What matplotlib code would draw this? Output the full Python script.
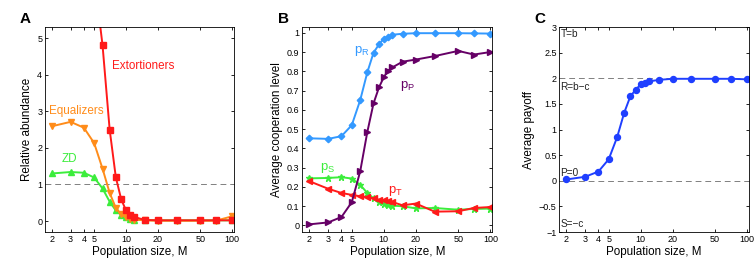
import matplotlib
matplotlib.use("Agg")
import matplotlib.pyplot as plt
from matplotlib.ticker import FixedLocator, NullLocator, FixedFormatter

plt.rcParams['font.family'] = ['Liberation Sans', 'DejaVu Sans']

M = [2, 3, 4, 5, 6, 7, 8, 9, 10, 11, 12, 15, 20, 30, 50, 70, 100]
M_ext = [5, 6, 7, 8, 9, 10, 11, 12, 15, 20, 30, 50, 70, 100]
extortioners = [6.7, 4.8, 2.5, 1.2, 0.59, 0.29, 0.17, 0.11, 0.03, 0.02, 0.02, 0.02, 0.02, 0.02]
equalizers = [2.59, 2.71, 2.55, 2.13, 1.43, 0.77, 0.36, 0.18, 0.1, 0.06, 0.04, 0.02, 0.01, 0.01, 0.01, 0.01, 0.13]
zd = [1.30, 1.34, 1.32, 1.19, 0.89, 0.53, 0.29, 0.17, 0.1, 0.06, 0.04, 0.03, 0.02, 0.02, 0.02, 0.02, 0.02]

pR = [0.452, 0.449, 0.463, 0.52, 0.65, 0.795, 0.896, 0.94, 0.97, 0.98, 0.99, 0.995, 0.998, 0.998, 0.998, 0.997, 0.996]
pP = [0.005, 0.015, 0.043, 0.12, 0.28, 0.485, 0.633, 0.716, 0.77, 0.804, 0.82, 0.85, 0.861, 0.879, 0.906, 0.887, 0.9]
pS = [0.244, 0.246, 0.25, 0.243, 0.21, 0.168, 0.14, 0.121, 0.113, 0.107, 0.102, 0.099, 0.088, 0.09, 0.081, 0.085, 0.087]
pT = [0.229, 0.19, 0.168, 0.158, 0.151, 0.147, 0.14, 0.133, 0.13, 0.128, 0.121, 0.104, 0.113, 0.071, 0.073, 0.09, 0.095]

payoff = [0.026, 0.078, 0.18, 0.42, 0.85, 1.33, 1.65, 1.78, 1.88, 1.91, 1.94, 1.97, 1.99, 1.99, 1.99, 1.99, 1.98]

xticks = [2, 3, 4, 5, 10, 20, 50, 100]
xticklabels = ['2', '3', '4', '5', '10', '20', '50', '100']

RED = '#ff1a1a'
ORANGE = '#ff8c1a'
GREEN = '#3ced3c'
BLUE_L = '#3399ff'
PURPLE = '#660066'
BLUE = '#1f3fff'
DASH = dict(color='#808080', ls=(0, (6, 4)), lw=0.7)

fig = plt.figure(figsize=(7.56, 2.73), dpi=100)
axA = fig.add_axes([0.0595, 0.150, 0.250, 0.751])
axB = fig.add_axes([0.400, 0.150, 0.251, 0.751])
axC = fig.add_axes([0.740, 0.150, 0.2505, 0.751])

tick_fs = 6.5
label_fs = 8.4

def style(ax):
    ax.set_xscale('log')
    ax.set_xlim(1.72, 104)
    ax.xaxis.set_major_locator(FixedLocator(xticks))
    ax.xaxis.set_major_formatter(FixedFormatter(xticklabels))
    ax.xaxis.set_minor_locator(NullLocator())
    ax.tick_params(direction='in', length=2.5, width=0.6, labelsize=tick_fs,
                   top=True, right=True, pad=2)
    for s in ax.spines.values():
        s.set_linewidth(0.6)
    ax.set_xlabel('Population size, M', fontsize=label_fs, labelpad=1.5)

lw = 1.4
ms = 3.9

# Panel A
style(axA)
axA.axhline(1, **DASH)
axA.plot(M, zd, color=GREEN, marker='^', ms=ms, lw=lw)
axA.plot(M, equalizers, color=ORANGE, marker='v', ms=ms, lw=lw)
axA.plot(M_ext, extortioners, color=RED, marker='s', ms=ms, lw=lw)
axA.set_ylim(-0.3, 5.3)
axA.set_yticks([0, 1, 2, 3, 4, 5])
axA.set_ylabel('Relative abundance', fontsize=label_fs, labelpad=3)
axA.text(7.37, 4.15, 'Extortioners', color=RED, fontsize=label_fs)
axA.text(1.89, 2.92, 'Equalizers', color=ORANGE, fontsize=label_fs)
axA.text(2.47, 1.61, 'ZD', color=GREEN, fontsize=label_fs)
fig.text(0.026, 0.915, 'A', fontsize=11, fontweight='bold')

# Panel B
style(axB)
axB.plot(M, pS, color=GREEN, marker='*', ms=ms + 1, lw=lw)
axB.plot(M, pT, color=RED, marker='<', ms=ms, lw=lw)
axB.plot(M, pR, color=BLUE_L, marker='D', ms=ms - 0.6, lw=lw)
axB.plot(M, pP, color=PURPLE, marker='>', ms=ms, lw=lw)
axB.set_ylim(-0.035, 1.03)
axB.set_yticks([0, 0.1, 0.2, 0.3, 0.4, 0.5, 0.6, 0.7, 0.8, 0.9, 1])
axB.set_yticklabels(['0', '0.1', '0.2', '0.3', '0.4', '0.5', '0.6', '0.7', '0.8', '0.9', '1'])
axB.set_ylabel('Average cooperation level', fontsize=label_fs, labelpad=3)
sub_fs = label_fs + 1
axB.text(5.3, 0.895, r'p$_\mathregular{R}$', color=BLUE_L, fontsize=sub_fs)
axB.text(14.1, 0.713, r'p$_\mathregular{P}$', color=PURPLE, fontsize=sub_fs)
axB.text(2.5, 0.285, r'p$_\mathregular{S}$', color=GREEN, fontsize=sub_fs)
axB.text(11.0, 0.168, r'p$_\mathregular{T}$', color=RED, fontsize=sub_fs)
fig.text(0.368, 0.915, 'B', fontsize=11, fontweight='bold')

# Panel C
style(axC)
axC.axhline(2, **DASH)
axC.axhline(0, **DASH)
axC.plot(M, payoff, color=BLUE, marker='o', ms=ms + 0.4, lw=lw)
axC.set_ylim(-1, 3)
axC.set_yticks([-1, -0.5, 0, 0.5, 1, 1.5, 2, 2.5, 3])
axC.set_yticklabels(['\u22121', '\u22120.5', '0', '0.5', '1', '1.5', '2', '2.5', '3'])
axC.set_ylabel('Average payoff', fontsize=label_fs, labelpad=3)
ann_fs = 7.2
axC.text(1.76, 2.97, 'T=b', fontsize=ann_fs, va='top', color='#222222')
axC.text(1.76, 1.93, 'R=b\u2212c', fontsize=ann_fs, va='top', color='#222222')
axC.text(1.76, 0.05, 'P=0', fontsize=ann_fs, va='bottom', color='#222222')
axC.text(1.76, -0.95, 'S=\u2212c', fontsize=ann_fs, va='bottom', color='#222222')
fig.text(0.707, 0.915, 'C', fontsize=11, fontweight='bold')

fig.savefig('out.png', dpi=100)
